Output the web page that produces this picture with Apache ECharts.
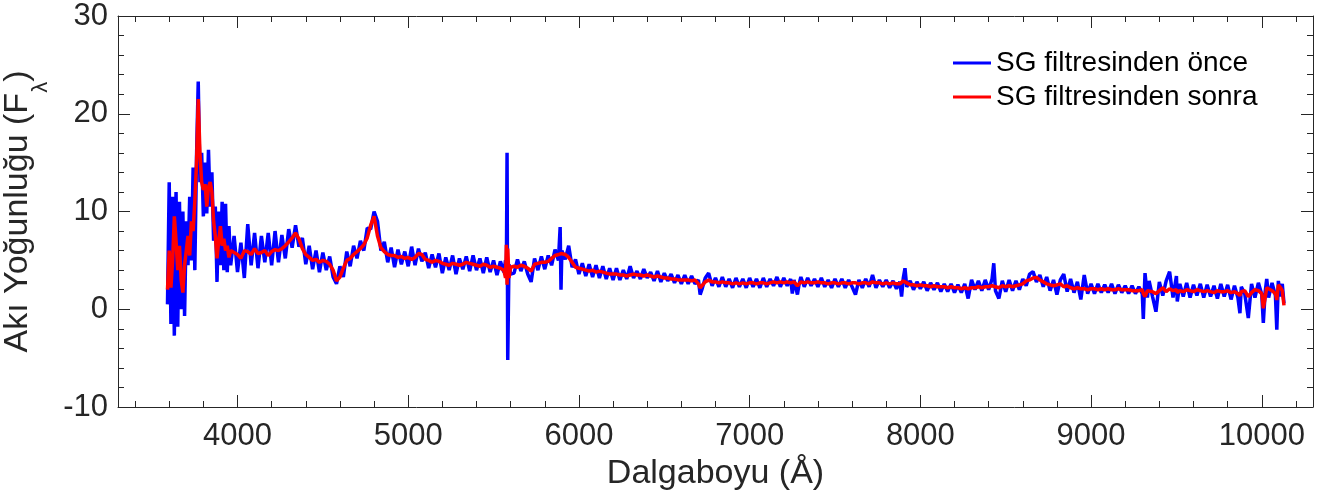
<!DOCTYPE html>
<html>
<head>
<meta charset="utf-8">
<script src="https://cdn.jsdelivr.net/npm/echarts@6/dist/echarts.min.js"></script>
<style>
html,body{margin:0;padding:0;background:#ffffff;}
#chart{width:1327px;height:502px;}
</style>
</head>
<body>
<div id="chart"></div>
<script>
// ---- DATA ----
const wavelength = [
  3590,3600,3610,3620,3630,3640,3650,3660,3670,3680,3690,3700,3710,3720,3730,3740,3750,3760,3770,3780,
  3790,3800,3810,3820,3830,3840,3850,3860,3870,3880,3890,3900,3910,3920,3930,3940,3950,3960,
  3980,4000,4020,4040,4060,4080,4100,4120,4140,4160,4180,4200,4220,4240,4260,4280,4300,
  4320,4340,4360,4380,4400,4420,4440,4460,4480,4500,4520,4540,4560,4580,4600,
  4620,4640,4660,4680,4700,4720,4740,4760,4780,4800,4820,4840,4860,4880,4900,
  4920,4940,4960,4980,5000,5020,5040,5060,5080,5100,5120,5140,5160,5180,5200,5220,5240,5260,5280,5300,
  5320,5340,5360,5380,5400,5420,5440,5460,5480,5500,5520,5540,
  5560,5570,5575,5579,5583,5590,5600,
  5620,5640,5660,5680,5700,5720,5740,5760,5780,5800,5820,5840,5860,5880,5890,5895,5900,5920,5940,5960,
  5980,6000,6020,6040,6060,6080,6100,6120,6140,6160,6180,6200,
  6220,6240,6260,6280,6300,6320,6340,6360,6380,6400,6420,6440,6460,6480,6500,6520,6540,6560,6580,6600,
  6620,6640,6660,6680,6700,6710,6720,6740,6760,6780,6800,6820,6840,6860,6880,6900,6920,6940,6960,6980,7000,
  7020,7040,7060,7080,7100,7120,7140,7160,7180,7200,7220,7240,7250,7260,7280,7290,7300,7320,7340,7360,
  7380,7400,7420,7440,7460,7480,7500,7520,7540,7560,7580,7600,
  7620,7640,7660,7680,7700,7720,7740,7760,7780,7800,7820,7840,7860,7880,7890,7900,7910,7920,7940,7960,
  7980,8000,8020,8040,8060,8080,8100,8120,8140,8160,8180,8200,8220,8240,8260,8280,8300,
  8320,8340,8360,8380,8400,8420,8430,8440,8460,8480,8500,8520,8540,8560,8580,8600,8620,8640,8660,8680,
  8700,8720,8740,8760,8780,8800,8820,8840,8860,8880,8900,8920,8940,8960,8980,9000,
  9020,9040,9060,9080,9100,9120,9140,9160,9180,9200,9220,9240,9260,9280,9300,
  9306,9316,9330,9340,9360,9380,9400,9420,9440,9460,9480,9500,9505,9520,9540,9560,9580,9600,9620,9640,
  9660,9680,9700,9720,9740,9760,9780,9800,9820,9840,9860,9872,9880,9900,9921,9940,9960,9980,10000,10009,
  10020,10029,10040,10060,10080,10088,10097,10110,10120,10130
];
const fluxBefore = [
  0.5,13.0,-1.5,11.5,-2.7,12.0,-1.8,11.0,0.0,10.0,-0.7,9.0,4.5,11.5,5.0,14.5,4.0,15.5,23.3,13.0,
  16.0,9.5,15.0,9.8,16.3,10.5,14.0,7.0,10.5,2.8,10.0,4.5,11.0,4.0,10.8,3.8,8.5,4.5,
  7.5,3.8,6.8,3.2,8.7,4.5,7.8,4.2,7.5,4.8,7.8,4.5,8.0,4.8,7.6,5.2,8.2,
  6.3,8.6,6.4,7.3,4.6,6.5,4.1,6.0,3.8,5.8,4.0,5.4,3.3,2.6,4.4,
  3.3,5.9,4.4,6.5,5.2,7.0,6.0,8.3,8.2,10.0,9.0,6.0,6.9,4.8,6.3,
  4.3,6.1,4.6,5.9,4.4,6.4,4.5,6.2,4.9,5.8,4.2,5.6,4.3,5.7,3.7,5.3,4.0,5.5,3.6,5.2,
  4.1,5.4,3.9,5.5,4.0,5.2,3.7,5.3,3.8,5.0,3.5,4.9,
  3.8,5.0,4.0,16.0,-5.2,4.6,3.6,
  3.7,5.1,3.9,4.9,3.6,2.8,5.2,4.0,5.4,4.1,5.5,4.5,6.1,5.0,8.4,2.0,6.0,5.1,6.5,4.3,
  5.1,3.6,4.7,3.4,4.6,3.3,4.5,3.2,4.4,3.1,4.2,3.0,
  4.2,3.0,4.0,3.1,4.4,3.2,3.9,3.1,4.1,3.2,3.8,2.9,3.9,2.8,3.7,2.9,3.6,2.7,3.5,2.6,
  3.5,2.6,3.4,2.6,3.0,1.5,2.0,3.2,3.7,2.4,3.2,2.3,3.3,2.3,3.1,2.2,3.2,2.3,3.1,2.2,3.2,
  2.3,3.1,2.2,3.2,2.3,3.1,2.4,3.3,2.3,3.2,2.4,3.1,1.6,3.0,1.5,2.6,3.3,2.3,3.2,2.4,
  3.1,2.3,3.2,2.3,3.0,2.2,3.1,2.3,3.1,2.2,3.0,2.3,
  1.5,3.0,2.2,3.1,2.3,3.5,2.2,3.0,2.3,3.0,2.2,2.9,2.1,2.8,1.3,3.2,4.2,2.3,2.9,2.0,
  2.8,2.1,2.8,1.9,2.7,2.0,2.7,1.8,2.6,1.8,2.6,1.7,2.5,1.7,2.6,1.1,3.0,
  2.0,2.9,1.9,3.0,2.0,3.1,4.7,1.9,1.1,2.9,1.8,3.0,1.9,2.9,2.0,3.1,2.4,3.6,3.85,2.8,
  3.5,2.3,3.3,1.9,3.0,1.5,3.0,3.6,1.8,3.1,1.7,2.8,1.0,3.5,1.6,2.6,
  1.6,2.6,1.7,2.5,1.7,2.6,1.6,2.5,1.7,2.4,1.6,2.4,1.6,2.3,1.6,
  -1.0,3.7,1.2,2.9,1.3,-0.25,2.8,1.4,2.9,3.85,1.2,3.4,0.8,2.6,1.3,2.7,1.2,2.5,1.4,2.6,
  1.2,2.5,1.3,2.4,1.1,2.6,1.3,2.5,1.0,2.4,1.2,-0.4,2.3,1.6,-0.9,2.6,1.2,2.7,1.5,-1.4,
  1.8,3.1,1.2,2.7,1.4,-2.1,2.9,1.3,2.6,0.6
];
const fluxAfter = [
  2.0,6.0,2.2,5.0,9.5,7.0,4.0,6.5,3.0,1.7,4.5,6.0,7.5,5.5,9.0,8.0,11.0,15.0,21.5,16.0,
  13.0,12.2,12.8,10.5,12.5,13.0,12.0,9.0,7.5,5.2,7.0,8.5,6.5,7.2,6.0,6.5,5.3,6.0,
  5.8,5.6,5.2,6.0,5.9,5.6,6.2,5.7,5.8,6.0,5.5,5.9,6.1,6.0,6.2,6.5,6.9,
  7.3,7.8,7.2,6.2,5.6,5.3,5.0,5.1,4.8,5.0,4.9,4.6,4.0,2.9,3.3,
  4.2,5.0,5.2,5.6,5.9,6.2,6.6,7.3,8.6,9.5,7.5,6.3,5.9,5.6,5.5,
  5.5,5.3,5.4,5.2,5.3,5.1,5.3,5.7,5.6,5.1,5.0,4.8,5.0,4.9,4.7,4.6,4.5,4.7,4.6,4.5,
  4.6,4.8,4.7,4.6,4.5,4.4,4.6,4.5,4.3,4.4,4.3,4.2,
  4.0,3.2,6.6,2.5,6.2,3.2,4.3,
  4.4,4.3,4.5,4.4,4.2,3.9,4.6,4.7,4.8,4.8,4.9,5.2,5.5,5.6,5.7,5.7,5.7,5.6,5.3,4.8,
  4.3,4.2,4.1,4.0,3.9,4.0,3.8,3.9,3.8,3.7,3.6,3.6,
  3.6,3.5,3.5,3.4,3.5,3.6,3.5,3.5,3.4,3.5,3.4,3.3,3.4,3.3,3.2,3.2,3.1,3.1,3.0,3.0,
  3.0,3.0,2.9,3.0,2.6,2.2,2.4,2.8,3.0,2.8,2.8,2.7,2.8,2.7,2.7,2.6,2.7,2.6,2.7,2.6,2.7,
  2.7,2.6,2.7,2.7,2.6,2.7,2.8,2.7,2.8,2.7,2.8,2.7,2.6,2.8,2.4,2.6,2.8,2.7,2.8,2.7,
  2.7,2.8,2.7,2.7,2.6,2.7,2.7,2.6,2.7,2.7,2.6,2.7,
  2.7,2.6,2.7,2.7,2.6,2.8,2.7,2.7,2.6,2.7,2.6,2.7,2.6,2.6,2.5,2.9,3.0,2.7,2.5,2.5,
  2.4,2.5,2.4,2.4,2.3,2.4,2.3,2.3,2.3,2.2,2.3,2.2,2.2,2.1,2.2,2.1,2.2,
  2.2,2.3,2.2,2.3,2.3,2.4,2.5,2.3,2.2,2.4,2.3,2.4,2.3,2.4,2.5,2.6,2.9,3.0,3.2,3.25,
  3.0,2.8,2.6,2.5,2.4,2.5,2.6,2.3,2.4,2.2,2.1,2.2,2.1,2.1,2.0,2.1,
  2.1,2.0,2.1,2.0,2.1,2.0,2.0,2.1,2.0,2.0,2.0,1.9,1.9,1.9,2.0,
  1.6,1.3,1.9,2.1,1.8,1.6,1.9,2.2,1.8,2.1,1.9,2.0,1.7,1.9,1.8,2.0,1.9,1.8,2.0,1.9,
  1.8,1.9,1.8,1.7,1.9,1.8,1.8,1.9,1.7,1.8,1.6,1.4,1.8,1.9,1.3,1.7,2.0,1.9,1.6,0.1,
  1.2,2.2,2.0,1.9,1.6,0.95,2.5,2.2,1.9,0.4
];
const seriesNames = ['SG filtresinden önce', 'SG filtresinden sonra'];
const xMajorTicks = [4000, 5000, 6000, 7000, 8000, 9000, 10000];
const xMinorTicks = [3400,3600,3800,4000,4200,4400,4600,4800,5000,5200,5400,5600,5800,6000,6200,6400,6600,6800,
  7000,7200,7400,7600,7800,8000,8200,8400,8600,8800,9000,9200,9400,9600,9800,10000,10200];
const xTitle = 'Dalgaboyu (Å)';
const yTitleMain = 'Akı Yoğunluğu (F';
const yTitleSub = 'λ';

// ---- CHART ----
const FONT = "'Liberation Sans', Arial, Helvetica, sans-serif";
const AX = '#262626';
const n = Math.min(wavelength.length, fluxBefore.length, fluxAfter.length);
const dataBefore = [], dataAfter = [];
for (let i = 0; i < n; i++) {
  dataBefore.push([wavelength[i], fluxBefore[i]]);
  dataAfter.push([wavelength[i], fluxAfter[i]]);
}

const chart = echarts.init(document.getElementById('chart'), null, {renderer: 'canvas'});

function xAxisCfg(pos, major, withLabels) {
  return {
    type: 'value', position: pos, min: 3300, max: 10300,
    axisLine: {show: major, onZero: false, lineStyle: {color: AX, width: 1}},
    splitLine: {show: false},
    axisTick: {show: true, inside: true, length: major ? 12 : 6,
      customValues: major ? xMajorTicks : xMinorTicks,
      lineStyle: {color: AX, width: 1}},
    axisLabel: withLabels ? {show: true, customValues: xMajorTicks, margin: 14,
      fontSize: 31, color: AX, fontFamily: FONT, formatter: function (v) { return String(v); }} : {show: false}
  };
}

const option = {
  animation: false,
  backgroundColor: '#ffffff',
  grid: {left: 118, right: 14, top: 16, bottom: 95, containLabel: false, outerBoundsMode: 'none'},
  legend: {
    orient: 'vertical', left: 953, top: 49, padding: 0, itemGap: 6,
    itemWidth: 38, itemHeight: 3, icon: 'rect',
    textStyle: {fontSize: 28, color: '#000000', fontFamily: FONT},
    data: seriesNames
  },
  xAxis: [
    Object.assign(xAxisCfg('bottom', true, true), {
      name: xTitle, nameLocation: 'middle', nameGap: 48,
      nameTextStyle: {fontSize: 34, color: AX, fontFamily: FONT}
    }),
    xAxisCfg('bottom', false, false),
    xAxisCfg('top', true, false),
    xAxisCfg('top', false, false)
  ],
  yAxis: [
    {
      type: 'value', position: 'left', min: -10, max: 30, interval: 10,
      axisLine: {show: true, onZero: false, lineStyle: {color: AX, width: 1}},
      splitLine: {show: false},
      axisTick: {show: true, inside: true, length: 12, lineStyle: {color: AX}},
      minorTick: {show: true, splitNumber: 5, length: 6, lineStyle: {color: AX}},
      axisLabel: {fontSize: 31, color: AX, fontFamily: FONT, margin: 10},
      name: '{a|' + yTitleMain + '}{s|' + yTitleSub + '}{a|)}',
      nameLocation: 'middle', nameRotate: 90, nameGap: 31,
      nameTextStyle: {
        rich: {
          a: {fontSize: 34, lineHeight: 34, color: AX, fontFamily: FONT, verticalAlign: 'top'},
          s: {fontSize: 22, lineHeight: 82, color: AX, fontFamily: FONT}
        }
      }
    },
    {
      type: 'value', position: 'right', min: -10, max: 30, interval: 10,
      axisLine: {show: true, onZero: false, lineStyle: {color: AX, width: 1}},
      splitLine: {show: false},
      axisTick: {show: true, inside: true, length: 12, lineStyle: {color: AX}},
      minorTick: {show: true, splitNumber: 5, length: 6, lineStyle: {color: AX}},
      axisLabel: {show: false}
    }
  ],
  series: [
    {
      type: 'line', name: seriesNames[0], data: dataBefore,
      xAxisIndex: 0, yAxisIndex: 0,
      showSymbol: false, symbol: 'none', silent: true, z: 2,
      lineStyle: {color: '#0000ff', width: 3.5}, itemStyle: {color: '#0000ff'}
    },
    {
      type: 'line', name: seriesNames[1], data: dataAfter,
      xAxisIndex: 0, yAxisIndex: 0,
      showSymbol: false, symbol: 'none', silent: true, z: 3,
      lineStyle: {color: '#ff0000', width: 3.5}, itemStyle: {color: '#ff0000'}
    }
  ]
};
chart.setOption(option);
</script>
</body>
</html>
